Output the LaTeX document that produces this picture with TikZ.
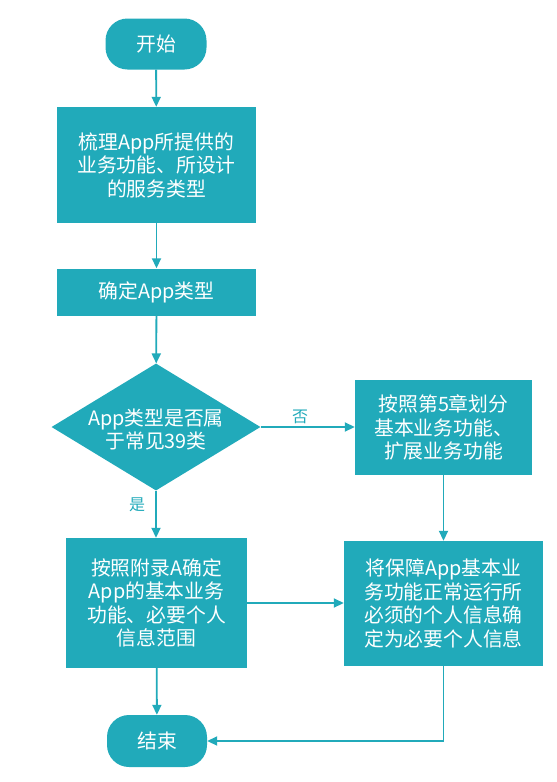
\documentclass[tikz,border=0pt]{standalone}
\usepackage{fontspec}
\setmainfont{Noto Sans CJK SC}
\newfontfamily\cjk{Noto Sans CJK SC}
\usetikzlibrary{arrows.meta,shapes.geometric,positioning}
\definecolor{teal1}{RGB}{33,170,186}
\tikzset{
  x=1pt,y=-1pt,
  boxfont/.style={font=\cjk\fontsize{19.8}{23.5}\selectfont},
  boxstyle/.style={fill=teal1,draw=none,text=white,boxfont,align=center,inner sep=0pt},
  termstyle/.style={boxstyle,rounded corners=22pt},
  conn/.style={draw=teal1,line width=1.8pt,-{Triangle[length=10pt,width=9pt]}},
  lbl/.style={text=teal1,font=\cjk\fontsize{16}{18}\selectfont},
}
\begin{document}
\begin{tikzpicture}
\useasboundingbox (0,0) rectangle (557,782);
\node[termstyle,minimum width=101pt,minimum height=51pt] (start) at (156,44) {开始};
\node[boxstyle,minimum width=199pt,minimum height=116pt] (b1) at (156.5,165) {梳理App所提供的\\业务功能、所设计\\的服务类型};
\node[boxstyle,minimum width=199pt,minimum height=47pt] (b2) at (156.5,292) {确定App类型};
\node[diamond,fill=teal1,inner sep=0pt,minimum width=209pt,minimum height=127pt,aspect=1.65] (d) at (156,427) {};
\node[text=white,boxfont,align=center] (dtext) at (156,429.5) {App类型是否属\\于常见39类};
\node[boxstyle,minimum width=177pt,minimum height=95pt] (r1) at (443.5,427.5) {按照第5章划分\\基本业务功能、\\扩展业务功能};
\node[boxstyle,minimum width=181pt,minimum height=130pt] (l2) at (156.5,603) {按照附录A确定\\App的基本业务\\功能、必要个人\\信息范围};
\node[boxstyle,minimum width=199pt,minimum height=125pt] (r2) at (443.5,603.5) {将保障App基本业\\务功能正常运行所\\必须的个人信息确\\定为必要个人信息};
\node[termstyle,minimum width=100pt,minimum height=52pt] (end) at (157,741) {结束};
\draw[conn] (start) -- (b1);
\draw[conn] (b1) -- (b2);
\draw[conn] (b2) -- (d);
\draw[conn] (d.east) -- (r1.west |- d.east);
\draw[conn] (d.south) -- (l2.north -| d.south);
\draw[conn] (r1) -- (r2);
\draw[conn] (l2.east) -- (r2.west |- l2.east);
\draw[conn] (l2) -- (end);
\draw[conn] (r2.south) |- (end.east);
\node[lbl] (no) at (300,417) {否};
\node[lbl] (yes) at (137,505) {是};
\end{tikzpicture}
\end{document}
